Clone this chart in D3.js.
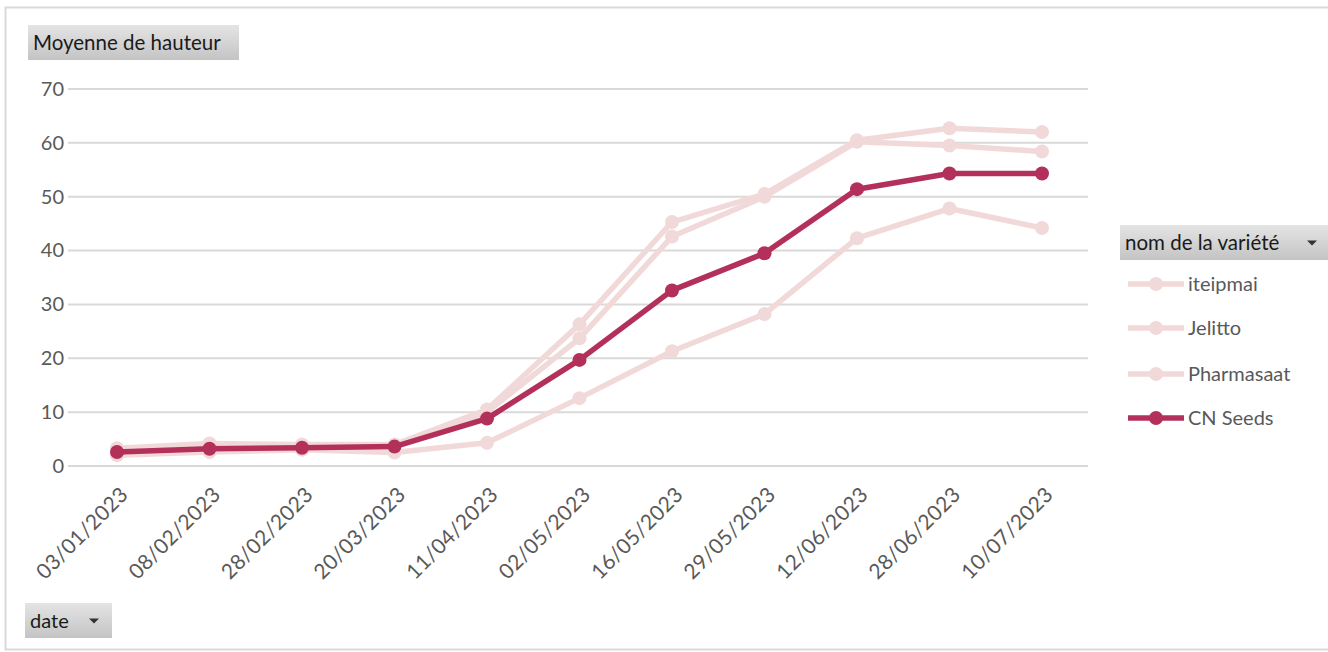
<!DOCTYPE html>
<html><head><meta charset="utf-8">
<script src="https://cdn.jsdelivr.net/npm/d3@7"></script>
<style>body{margin:0;background:#fff;} svg{display:block;font-family:Lato,"Open Sans",sans-serif;}</style>
</head><body>
<svg id="c" width="1328" height="652"></svg>
<script>
const dates = ["03/01/2023","08/02/2023","28/02/2023","20/03/2023","11/04/2023","02/05/2023","16/05/2023","29/05/2023","12/06/2023","28/06/2023","10/07/2023"];
const iteipmai   = [3.3, 4.2, 4.0, 4.0, 10.5, 26.3, 45.3, 50.5, 60.5, 62.7, 62.0];
const jelitto    = [2.9, 3.8, 3.8, 3.6, 10.0, 23.7, 42.6, 50.0, 60.2, 59.5, 58.4];
const pharmasaat = [2.0, 2.6, 3.0, 2.5, 4.3, 12.6, 21.3, 28.2, 42.3, 47.8, 44.2];
const cnSeeds    = [2.6, 3.2, 3.4, 3.6, 8.8, 19.7, 32.6, 39.5, 51.4, 54.3, 54.3];
const seriesNames = ["iteipmai","Jelitto","Pharmasaat","CN Seeds"];
const seriesValues = [iteipmai, jelitto, pharmasaat, cnSeeds];
const yTicks = [0,10,20,30,40,50,60,70];

const fadeCol = "#f2d9d9", mainCol = "#b3305a", gridCol = "#d9d9d9", txtCol = "#595959";
const svg = d3.select("#c");

// outer frame
svg.append("rect").attr("x",5.5).attr("y",7.5).attr("width",1330).attr("height",642)
  .attr("fill","none").attr("stroke","#d9d9d9").attr("stroke-width",2);

const defs = svg.append("defs");
const g1 = defs.append("linearGradient").attr("id","btn").attr("x1",0).attr("y1",0).attr("x2",0).attr("y2",1);
g1.append("stop").attr("offset","0%").attr("stop-color","#e4e4e4");
g1.append("stop").attr("offset","100%").attr("stop-color","#c4c4c4");

const x = d3.scalePoint().domain(dates).range([117,1042]);
const y = d3.scaleLinear().domain([0,70]).range([466,89]);

// gridlines
svg.append("g").selectAll("line").data(yTicks).join("line")
  .attr("x1",68).attr("x2",1088).attr("y1",d=>y(d)).attr("y2",d=>y(d))
  .attr("stroke",gridCol).attr("stroke-width",2);

// y axis
const yAxis = svg.append("g").attr("transform","translate(64,0)")
  .call(d3.axisLeft(y).tickValues(yTicks).tickSize(0).tickPadding(0));
yAxis.select(".domain").remove();
yAxis.selectAll("text").attr("fill",txtCol).style("font-size","20px").style("font-family","Lato,sans-serif");

// x axis
const xAxis = svg.append("g").attr("transform","translate(-3,490)")
  .call(d3.axisBottom(x).tickSize(0).tickPadding(0));
xAxis.select(".domain").remove();
xAxis.selectAll("text").attr("fill",txtCol).style("font-size","21px").style("font-family","Lato,sans-serif")
  .style("letter-spacing","0.3px")
  .attr("text-anchor","end").attr("dy","0.7em").attr("dx","0.3em")
  .attr("transform","rotate(-45)");

const line = d3.line().x((d,i)=>x(dates[i])).y(d=>y(d));
seriesValues.forEach((vals,k)=>{
  const col = k===3 ? mainCol : fadeCol;
  const gS = svg.append("g");
  gS.append("path").attr("d",line(vals)).attr("fill","none").attr("stroke",col)
    .attr("stroke-width",5.5).attr("stroke-linejoin","round");
  gS.selectAll("circle").data(vals).join("circle")
    .attr("cx",(d,i)=>x(dates[i])).attr("cy",d=>y(d)).attr("r",7).attr("fill",col);
});

// buttons
function button(xp,yp,w,h,label,arrow,fs){
  svg.append("rect").attr("x",xp).attr("y",yp).attr("width",w).attr("height",h).attr("fill","url(#btn)");
  svg.append("text").attr("x",xp+5).attr("y",yp+h/2).attr("dy","0.35em").attr("fill","#1a1a1a")
    .style("font-size",fs+"px").text(label);
  if(arrow){
    const ax = xp+w-18, ay = yp+h/2;
    svg.append("path").attr("d",`M${ax-5},${ay-2}L${ax+5},${ay-2}L${ax},${ay+3}Z`).attr("fill","#333");
  }
}
button(28,25,211,35,"Moyenne de hauteur",false,20.5);
button(25,603,87,35,"date",true,20);
button(1120,225,210,35,"nom de la variété",true,20.5);

// legend
const legY = [284,328,374,418];
seriesNames.forEach((n,k)=>{
  const col = k===3 ? mainCol : fadeCol;
  svg.append("line").attr("x1",1128).attr("x2",1184).attr("y1",legY[k]).attr("y2",legY[k])
    .attr("stroke",col).attr("stroke-width",5.5);
  svg.append("circle").attr("cx",1156).attr("cy",legY[k]).attr("r",7).attr("fill",col);
  svg.append("text").attr("x",1188).attr("y",legY[k]).attr("dy","0.35em").attr("fill",txtCol)
    .style("font-size","20px").text(n);
});
</script>
</body></html>
